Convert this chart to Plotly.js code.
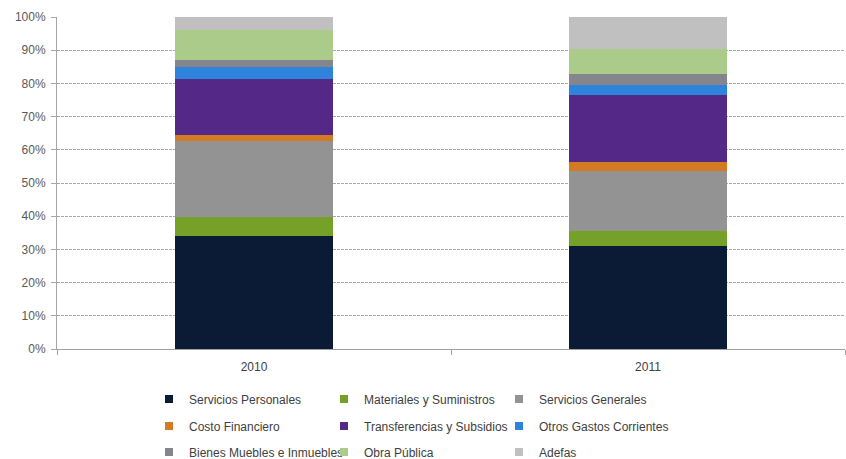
<!DOCTYPE html>
<html>
<head>
<meta charset="utf-8">
<script src="https://cdn.plot.ly/plotly-3.0.1.min.js"></script>
<style>html,body{margin:0;padding:0;background:#fff;}#chart{width:846px;height:459px;}</style>
</head>
<body>
<div id="chart"></div>
<script>
var years = ['2010', '2011'];
var seriesNames = ['Servicios Personales', 'Materiales y Suministros', 'Servicios Generales',
  'Costo Financiero', 'Transferencias y Subsidios', 'Otros Gastos Corrientes',
  'Bienes Muebles e Inmuebles', 'Obra Pública', 'Adefas'];
var serviciosPersonales = [34.1, 31.0];
var materialesSuministros = [5.8, 4.5];
var serviciosGenerales = [22.9, 18.1];
var costoFinanciero = [1.8, 2.6];
var transferenciasSubsidios = [16.7, 20.3];
var otrosGastosCorrientes = [3.6, 2.9];
var bienesMueblesInmuebles = [2.2, 3.4];
var obraPublica = [9.0, 7.6];
var adefas = [3.9, 9.6];
var yTickVals = [0, 10, 20, 30, 40, 50, 60, 70, 80, 90, 100];
var yTickLabels = ['0%', '10%', '20%', '30%', '40%', '50%', '60%', '70%', '80%', '90%', '100%'];

var seriesValues = [serviciosPersonales, materialesSuministros, serviciosGenerales,
  costoFinanciero, transferenciasSubsidios, otrosGastosCorrientes,
  bienesMueblesInmuebles, obraPublica, adefas];
var colors = ['#0b1b35', '#76a128', '#939393', '#d27b22', '#542886', '#2e84db', '#85858c', '#abcb8a', '#c0c0c0'];
var legendIds = ['legend', 'legend', 'legend', 'legend2', 'legend2', 'legend2', 'legend3', 'legend3', 'legend3'];

var traces = seriesNames.map(function (n, i) {
  return {
    type: 'bar', name: n, x: years, y: seriesValues[i],
    marker: {color: colors[i], line: {width: 0}},
    showlegend: false, legendgroup: 'g' + i, hoverinfo: 'name+y'
  };
});
// legend-only entries (no points drawn) to get small square keys
seriesNames.forEach(function (n, i) {
  traces.push({
    type: 'scatter', mode: 'markers', name: n, x: [null], y: [null],
    marker: {color: colors[i], symbol: 'square', size: 8, line: {width: 0}},
    legend: legendIds[i], legendgroup: 'g' + i, showlegend: true, hoverinfo: 'skip'
  });
});

var legendBase = {
  orientation: 'h', xanchor: 'left', yanchor: 'middle',
  xref: 'container', yref: 'container', x: 149 / 846,
  entrywidth: 130, entrywidthmode: 'pixels', traceorder: 'normal',
  font: {family: 'Liberation Sans, Arial, sans-serif', size: 12, color: '#404040'},
  bgcolor: 'rgba(0,0,0,0)', borderwidth: 0
};
function leg(y) { var o = JSON.parse(JSON.stringify(legendBase)); o.y = y; return o; }

var layout = {
  width: 846, height: 459,
  margin: {l: 57, r: 1, t: 17, b: 110},
  paper_bgcolor: '#ffffff', plot_bgcolor: '#ffffff',
  barmode: 'stack', bargap: 0.6,
  font: {family: 'Liberation Sans, Arial, sans-serif', size: 12, color: '#595959'},
  xaxis: {
    type: 'category', showline: true, linecolor: '#a0a0a0', linewidth: 1.3,
    ticks: 'outside', tickson: 'boundaries', ticklen: 5, tickcolor: '#a0a0a0',
    tickfont: {size: 12, color: '#404040'}, showgrid: false, zeroline: false,
    ticklabelstandoff: 6
  },
  yaxis: {
    range: [0, 100], tickmode: 'array', tickvals: yTickVals, ticktext: yTickLabels,
    showline: true, linecolor: '#a6a6a6', linewidth: 1,
    ticks: 'outside', ticklen: 5, tickcolor: '#a6a6a6',
    showgrid: true, gridcolor: '#a8a8a8', gridwidth: 1, griddash: '3px,1px',
    zeroline: false, tickfont: {size: 12, color: '#595959'}, ticklabelstandoff: 3
  },
  legend: leg(1 - 399 / 459),
  legend2: leg(1 - 426 / 459),
  legend3: leg(1 - 452 / 459),
  showlegend: true
};

Plotly.newPlot('chart', traces, layout, {displayModeBar: false, staticPlot: true});
</script>
</body>
</html>
